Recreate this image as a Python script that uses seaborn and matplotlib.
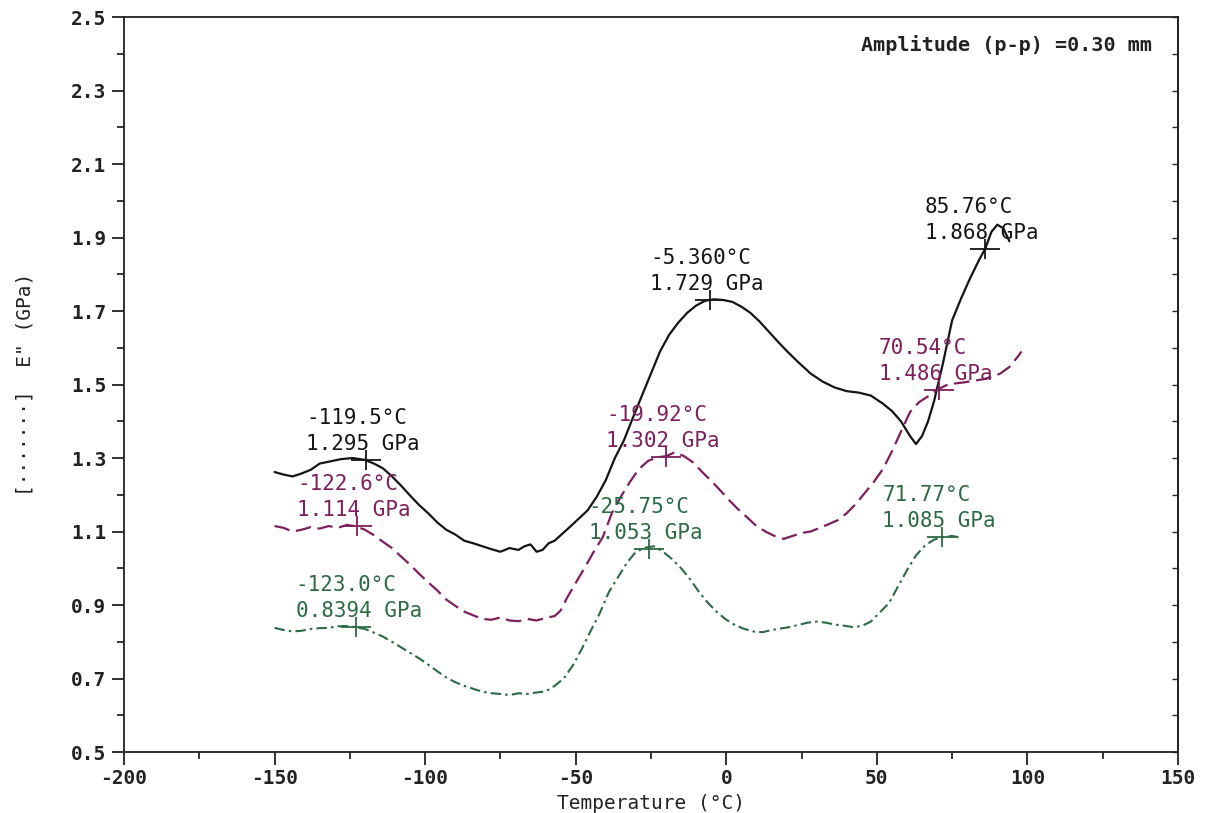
import numpy as np
import pandas as pd
import seaborn as sns
import matplotlib
matplotlib.use("Agg")
import matplotlib.pyplot as plt

# ---------------- data ----------------
black_x = [-150, -147, -144, -141, -138, -135, -132, -128, -124, -120, -117, -114, -111, -108,
           -105, -102, -99, -96, -93, -90, -87, -84, -81, -78, -75, -72, -69, -67, -65, -63,
           -61, -59, -57, -55, -52, -49, -46, -43, -40, -37, -34, -31, -28, -25, -22, -19,
           -16, -13, -10, -7, -4, -1, 2, 5, 8, 11, 14, 17, 20, 24, 28, 32, 36, 40, 44, 48,
           52, 55, 58, 61, 63, 65, 67, 69, 72, 75, 78, 81, 84, 86, 88, 90, 92, 94]
black_y = [1.262, 1.255, 1.250, 1.258, 1.268, 1.285, 1.290, 1.297, 1.300, 1.295, 1.285, 1.272,
           1.250, 1.225, 1.198, 1.172, 1.150, 1.125, 1.105, 1.092, 1.075, 1.068, 1.060, 1.052,
           1.045, 1.055, 1.050, 1.060, 1.065, 1.045, 1.050, 1.068, 1.075, 1.090, 1.112, 1.135,
           1.158, 1.195, 1.240, 1.300, 1.348, 1.410, 1.470, 1.530, 1.590, 1.635, 1.668, 1.695,
           1.715, 1.728, 1.732, 1.730, 1.725, 1.712, 1.695, 1.672, 1.645, 1.618, 1.592, 1.560,
           1.530, 1.508, 1.492, 1.482, 1.478, 1.470, 1.448, 1.428, 1.400, 1.360, 1.338, 1.360,
           1.400, 1.455, 1.560, 1.675, 1.735, 1.790, 1.840, 1.870, 1.915, 1.935, 1.925, 1.890]

purple_x = [-150, -147, -144, -141, -138, -135, -132, -129, -126, -123, -120, -117, -114, -111,
            -108, -105, -102, -99, -96, -93, -90, -87, -84, -81, -78, -75, -72, -69, -66, -63,
            -60, -57, -55, -53, -50, -47, -44, -41, -38, -35, -32, -29, -26, -23, -20, -17,
            -14, -11, -8, -5, -2, 1, 4, 7, 10, 13, 16, 19, 22, 25, 28, 31, 34, 37, 40, 43, 46,
            49, 52, 55, 58, 61, 64, 67, 70, 73, 76, 79, 82, 85, 88, 91, 94, 97, 98]
purple_y = [1.115, 1.110, 1.100, 1.105, 1.112, 1.108, 1.115, 1.110, 1.118, 1.114, 1.105, 1.090,
            1.072, 1.055, 1.032, 1.010, 0.985, 0.962, 0.940, 0.915, 0.898, 0.882, 0.872, 0.862,
            0.860, 0.866, 0.858, 0.856, 0.862, 0.858, 0.865, 0.870, 0.885, 0.918, 0.960, 1.002,
            1.045, 1.085, 1.150, 1.195, 1.235, 1.270, 1.292, 1.302, 1.305, 1.316, 1.305, 1.288,
            1.262, 1.238, 1.212, 1.185, 1.160, 1.138, 1.115, 1.100, 1.088, 1.080, 1.088, 1.096,
            1.100, 1.110, 1.120, 1.131, 1.150, 1.175, 1.205, 1.235, 1.270, 1.318, 1.372, 1.425,
            1.452, 1.468, 1.486, 1.498, 1.503, 1.506, 1.510, 1.514, 1.520, 1.530, 1.548, 1.578,
            1.590]

green_x = [-150, -147, -144, -141, -138, -135, -132, -129, -126, -123, -120, -117, -114, -111,
           -108, -105, -102, -99, -96, -93, -90, -87, -84, -81, -78, -75, -72, -69, -66, -63,
           -60, -57, -54, -51, -48, -45, -42, -39, -36, -33, -30, -27, -24, -21, -18, -15, -12,
           -9, -6, -3, 0, 3, 6, 9, 12, 15, 18, 21, 24, 27, 30, 33, 36, 39, 42, 45, 48, 51, 54,
           57, 60, 63, 66, 69, 72, 75, 78]
green_y = [0.838, 0.832, 0.828, 0.830, 0.835, 0.837, 0.838, 0.842, 0.843, 0.839, 0.835, 0.825,
           0.814, 0.800, 0.785, 0.770, 0.755, 0.738, 0.720, 0.703, 0.690, 0.680, 0.672, 0.664,
           0.660, 0.658, 0.655, 0.660, 0.658, 0.662, 0.665, 0.680, 0.700, 0.735, 0.780, 0.830,
           0.878, 0.935, 0.975, 1.015, 1.045, 1.056, 1.060, 1.045, 1.025, 1.000, 0.970, 0.935,
           0.905, 0.880, 0.860, 0.845, 0.835, 0.828, 0.826, 0.832, 0.836, 0.840, 0.846, 0.852,
           0.855, 0.852, 0.847, 0.844, 0.840, 0.843, 0.855, 0.880, 0.905, 0.950, 0.995, 1.035,
           1.062, 1.078, 1.085, 1.088, 1.083]

# peak annotations (temperature, modulus, label lines)
black_peaks_t = [-119.5, -5.360, 85.76]
black_peaks_e = [1.295, 1.729, 1.868]
black_peaks_lbl = [("-119.5°C", "1.295 GPa"), ("-5.360°C", "1.729 GPa"), ("85.76°C", "1.868 GPa")]
purple_peaks_t = [-122.6, -19.92, 70.54]
purple_peaks_e = [1.114, 1.302, 1.486]
purple_peaks_lbl = [("-122.6°C", "1.114 GPa"), ("-19.92°C", "1.302 GPa"), ("70.54°C", "1.486 GPa")]
green_peaks_t = [-123.0, -25.75, 71.77]
green_peaks_e = [0.8394, 1.053, 1.085]
green_peaks_lbl = [("-123.0°C", "0.8394 GPa"), ("-25.75°C", "1.053 GPa"), ("71.77°C", "1.085 GPa")]

x_ticks = [-200, -150, -100, -50, 0, 50, 100, 150]
y_ticks = [0.5, 0.7, 0.9, 1.1, 1.3, 1.5, 1.7, 1.9, 2.1, 2.3, 2.5]

# ---------------- style ----------------
sns.set_theme(style="ticks")
plt.rcParams['font.family'] = ['DejaVu Sans Mono', 'DejaVu Sans']
plt.rcParams['axes.unicode_minus'] = False

BLACK = "#151515"
PURPLE = "#7d1f5c"
GREEN = "#2c6a46"

fig = plt.figure(figsize=(12.07, 8.13), dpi=100)
ax = fig.add_axes([0.1027, 0.075, 0.8733, 0.904])

sns.lineplot(x=black_x, y=black_y, ax=ax, color=BLACK, linewidth=1.6, sort=False)
sns.lineplot(x=purple_x, y=purple_y, ax=ax, color=PURPLE, linewidth=1.6, sort=False,
             linestyle=(0, (7, 3)))
sns.lineplot(x=green_x, y=green_y, ax=ax, color=GREEN, linewidth=1.5, sort=False,
             linestyle=(0, (5, 2, 1.2, 2)))

def annotate(ts, es, lbls, color):
    for t, e, (l1, l2) in zip(ts, es, lbls):
        ax.plot([t], [e], marker='_', markersize=22, markeredgewidth=1.3, color=color)
        ax.plot([t], [e], marker='|', markersize=14, markeredgewidth=1.3, color=color)
        ax.annotate(l1, xy=(t, e), xytext=(-60, 42), textcoords='offset pixels',
                    ha='left', va='center', fontsize=15, color=color)
        ax.annotate(l2, xy=(t, e), xytext=(-60, 16), textcoords='offset pixels',
                    ha='left', va='center', fontsize=15, color=color)

annotate(black_peaks_t, black_peaks_e, black_peaks_lbl, BLACK)
annotate(purple_peaks_t, purple_peaks_e, purple_peaks_lbl, PURPLE)
annotate(green_peaks_t, green_peaks_e, green_peaks_lbl, GREEN)

ax.set_xlim(-200, 150)
ax.set_ylim(0.5, 2.5)
ax.set_xticks(x_ticks)
ax.set_yticks(y_ticks)
ax.set_xticks(np.arange(-175, 150, 50), minor=True)
ax.set_yticks(np.arange(0.6, 2.5, 0.2), minor=True)
ax.set_yticklabels([f"{v:.1f}" for v in y_ticks])
ax.set_xticklabels([str(v) for v in x_ticks])
ax.tick_params(axis='both', which='major', direction='out', length=9, width=1.3,
               labelsize=14, colors="#222222")
ax.tick_params(axis='both', which='minor', direction='out', length=5, width=1.3)
for lab in ax.get_xticklabels() + ax.get_yticklabels():
    lab.set_fontweight('bold')

sec = ax.secondary_yaxis('right')
sec.set_yticks(np.arange(0.5, 2.51, 0.1))
sec.tick_params(direction='in', length=4, width=1.0, labelright=False)
sec.spines['right'].set_linewidth(1.3)

for s in ax.spines.values():
    s.set_linewidth(1.3)
    s.set_color("#222222")

ax.set_xlabel("Temperature (°C)", fontsize=14, labelpad=4, color="#222222")
ax.set_ylabel('[·······]  E" (GPa)', fontsize=14, labelpad=40, color="#222222")
ax.yaxis.set_label_coords(-0.085, 0.5)

ax.text(0.975, 0.975, "Amplitude (p-p) =0.30 mm", transform=ax.transAxes, ha='right',
        va='top', fontsize=14.5, fontweight='bold', color="#222222")

fig.savefig("out.png", dpi=100, facecolor="white")
